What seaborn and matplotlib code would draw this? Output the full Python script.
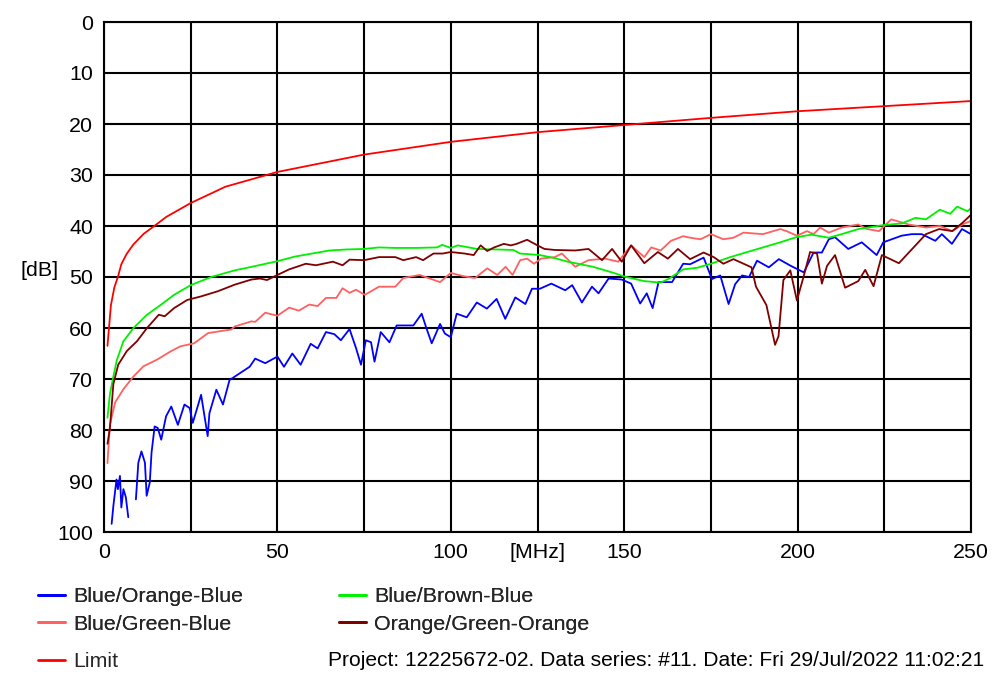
import numpy as np
import pandas as pd
import matplotlib
matplotlib.use("Agg")
import matplotlib.pyplot as plt
from matplotlib.lines import Line2D
import seaborn as sns

# ---------------- data ----------------
lim_f = [1, 2, 3, 4, 5, 6.5, 8.5, 11.5, 14.5, 18, 25, 35, 50, 75, 100, 125, 150, 175, 200, 225, 250]
lim_db = [63.5, 55.5, 52, 50, 47.5, 45.5, 43.6, 41.5, 40, 38.2, 35.5, 32.3, 29.4, 26, 23.5, 21.6, 20.2, 18.8, 17.5, 16.5, 15.5]

green_f = [1, 1.7, 2.7, 3.7, 5.6, 8.5, 12.4, 16.3, 20.2, 25, 30.9, 37.7, 42.6, 50, 55,
           60, 65, 70, 75, 79.3, 84, 90, 96, 97.5, 100, 102, 107.6, 113, 118, 120,
           125.7, 130, 133.7, 141, 147, 150, 155.7, 160.5, 163, 167, 171, 175, 180.6, 185, 190,
           195, 199.6, 204, 209, 212.7, 217.5, 225, 230, 234, 237, 241, 244, 246, 249, 250]
green_db = [77.6, 73, 69.5, 66.3, 62.6, 60, 57.4, 55.5, 53.5, 51.6, 50, 48.7, 48, 46.9, 46,
            45.4, 44.8, 44.6, 44.5, 44.2, 44.3, 44.3, 44.2, 43.7, 44.3, 43.8, 44.5, 44.6, 44.7, 45.4,
            45.7, 46.3, 47, 48, 49.2, 49.9, 50.8, 51.1, 50.3, 48.5, 48.2, 47.4, 46.1, 45.2, 44.2,
            43.2, 42.2, 41.7, 42.3, 41.6, 40.6, 39.8, 39.5, 38.4, 38.7, 36.8, 37.6, 36.2, 37.1, 36.5]

brown_f = [1, 1.7, 2.7, 4.1, 6.6, 9.5, 12.4, 15.8, 17.5, 20.2, 24, 28, 32.8, 37.7, 42.5,
           45, 47, 50, 53.4, 58.2, 61.1, 66, 68.8, 70.8, 75, 79.3, 84, 86.3, 90, 92,
           95, 97.7, 100, 104, 106.6, 108.6, 110.5, 112.5, 115.3, 117.3, 119, 122, 125, 127, 130,
           135.9, 139.7, 143.6, 146.5, 149.3, 152, 155.8, 159.7, 162.6, 165.5, 169, 172.9, 175.8, 178.6, 181.5,
           186.7, 188, 191, 193.5, 194.5, 195.9, 197.9, 199.8, 201.7, 203.6, 205.6, 207, 208.5, 210.8, 213.7,
           217.5, 219.5, 221.9, 224.3, 229.2, 234, 237, 240.8, 244.6, 247.5, 250]
brown_db = [82.7, 79.7, 71, 67.2, 64.5, 62.6, 60, 57.4, 57.7, 56.1, 54.5, 53.8, 52.8, 51.5, 50.5,
            50.3, 50.6, 49.6, 48.5, 47.4, 47.7, 47, 47.7, 46.6, 46.7, 46.1, 46.1, 46.7, 46.1, 46.7,
            45.4, 45.4, 45.1, 45.4, 45.7, 43.8, 44.9, 44.2, 43.5, 43.8, 43.5, 42.7, 43.8, 44.5, 44.7,
            44.8, 44.5, 46.7, 44.5, 47, 43.8, 47.3, 45.1, 46.4, 44.5, 46.5, 45.2, 46.1, 47.4, 46.5,
            48.1, 51.9, 55.5, 63.3, 61.6, 50.6, 48.7, 54.6, 50, 45.1, 45.4, 51.3, 47.8, 45.7, 52.1,
            50.8, 48.6, 51.8, 45.7, 47.3, 43.8, 41.6, 40.6, 41, 39.4, 37.8]

lred_f = [1, 1.7, 3.2, 5.6, 8.5, 11.4, 15.3, 19.2, 22, 26, 30, 32.8, 36.7, 37.7, 42.5,
          43.6, 46.5, 50, 53.4, 56.2, 59.2, 61.6, 64, 67, 68.8, 70.8, 72.7, 75.2, 79.3, 84,
          86.3, 91, 96.9, 100, 104, 107, 110.5, 113.4, 115.8, 117.8, 120, 122, 124, 126, 130,
          132, 135.9, 139.7, 144.5, 148.3, 152, 155.8, 157.8, 160.5, 163.5, 167, 169, 172, 175, 178.6,
          181.5, 184.4, 190, 195, 196.8, 199.8, 202.7, 204.6, 206.5, 209, 212.7, 217.5, 220, 223.5, 227,
          232, 237, 241, 244.6, 247.5, 250]
lred_db = [86.5, 79, 74.6, 72, 69.5, 67.5, 66.2, 64.6, 63.6, 63, 61, 60.7, 60.3, 59.7, 58.7,
           58.8, 57, 57.6, 56, 56.6, 55.4, 55.7, 54.1, 54.1, 52.2, 53.1, 52.5, 53.5, 51.9, 51.9,
           50.2, 49.6, 51, 49.2, 49.9, 50.2, 48.3, 49.6, 48, 49.6, 46.7, 46.4, 47.4, 46.4, 46.1,
           45.4, 48, 46.7, 46.4, 47, 43.8, 46.1, 44.2, 44.8, 42.9, 42, 42.3, 42.6, 41.6, 42.6,
           42.3, 41.3, 41.6, 40.6, 41, 41.9, 41, 41.6, 40.3, 41.3, 40.3, 39.7, 40.6, 41, 38.7,
           39.7, 40.3, 40, 41, 39.7, 39]

blue_f = [2.2, 2.7, 3.6, 4.0, 4.6, 5.0, 5.6, 6.3, 7.0, 8.0, 9.2, 9.9, 10.8, 11.8, 12.3,
          13.2, 13.7, 14.6, 15.5, 16.5, 17.9, 19.4, 21.3, 23.2, 24.7, 25.6, 28, 29.9, 30.4, 32.4,
          34.3, 36.2, 39.1, 42, 43.6, 46.5, 50, 51.9, 54.3, 56.7, 59.6, 61.6, 64, 66.4, 68.3,
          70.8, 72.7, 74.1, 75.5, 77, 78, 79.8, 82.3, 84.4, 89.2, 91.6, 93, 94.5, 96.9, 98.3,
          100, 101.7, 104.6, 107.5, 110.4, 113.2, 115.7, 118.6, 121.5, 123.4, 125.7, 129, 133, 135, 137.8,
          140.7, 142.6, 145.5, 149.3, 152, 154.6, 156.5, 158.2, 159.9, 163.8, 167, 169, 172.9, 175.3, 177.7,
          180.1, 182, 184, 186, 188.3, 191.7, 194.6, 198, 201.8, 204.6, 207, 209, 210.8, 214.6, 218.5,
          222.8, 224.7, 230, 232.9, 235.8, 239.7, 241.6, 244.5, 247.4, 250]
blue_db = [98.4, 94.9, 89.7, 91.6, 89, 95.2, 91.6, 93.2, 97.1, np.nan, 93.6, 86.4, 84.2, 86.4, 92.9,
           90.3, 84.5, 79.3, 79.6, 81.9, 77.3, 75.4, 79, 75, 75.7, 78.6, 73.1, 81.2, 76.7, 72.1,
           75, 70.2, 68.9, 67.6, 66, 66.9, 65.6, 67.6, 65, 67.2, 63.1, 64, 60.8, 61.2, 62.4,
           60.2, 64, 67.2, 62.4, 62.8, 66.6, 60.8, 62.8, 59.5, 59.5, 57.2, 60.1, 63, 59.2, 61.1,
           61.8, 57.2, 57.9, 55, 56.2, 54.3, 58.2, 54, 55.3, 52.3, 52.3, 51.3, 52.6, 51.6, 55,
           51.9, 53.2, 50.3, 50.5, 51.3, 55.2, 53.2, 56.1, 51, 51, 47.4, 47.5, 46.2, 50.4, 49.7,
           55.3, 51.4, 49.7, 50, 46.8, 48.1, 46.5, 47.8, 49.1, 45.2, 45.2, 42.6, 42.2, 44.5, 43.2,
           45.7, 43.2, 41.9, 41.6, 41.6, 42.9, 41.6, 43.5, 40.6, 41.6]

series_names = ["Blue/Orange-Blue", "Blue/Green-Blue", "Blue/Brown-Blue", "Orange/Green-Orange", "Limit"]
colors = ["#0000FF", "#FF6060", "#00F000", "#800000", "#FF0000"]
x_ticks = [0, 25, 50, 75, 100, 125, 150, 175, 200, 225, 250]
x_labels = ["0", "", "50", "", "100", "[MHz]", "150", "", "200", "", "250"]
y_ticks = [0, 10, 20, 30, 40, 50, 60, 70, 80, 90, 100]
footer = "Project: 12225672-02. Data series: #11. Date: Fri 29/Jul/2022 11:02:21"

# ---------------- build long table ----------------
frames = []
for name, f, d in zip(series_names,
                      [blue_f, lred_f, green_f, brown_f, lim_f],
                      [blue_db, lred_db, green_db, brown_db, lim_db]):
    d = np.asarray(d, dtype=float)
    seg = np.cumsum(np.isnan(d))
    frames.append(pd.DataFrame({"f": f, "dB": d, "series": name, "seg": seg}))
data = pd.concat(frames, ignore_index=True)
palette = dict(zip(series_names, colors))

sns.set_style("white")
plt.rcParams["font.family"] = ["Liberation Sans", "DejaVu Sans"]
FS = 15.4

fig = plt.figure(figsize=(10.06, 6.74), dpi=100)
ax = fig.add_axes([104 / 1006, 1 - 532 / 674, (971 - 104) / 1006, (532 - 22) / 674])

sns.lineplot(data=data, x="f", y="dB", hue="series", units="seg", estimator=None,
             palette=palette, hue_order=series_names, sort=False, legend=False,
             linewidth=1.3, ax=ax)

ax.set_xlim(0, 250)
ax.set_ylim(100, 0)
ax.set_xticks(x_ticks)
ax.set_xticklabels(x_labels)
ax.set_yticks(y_ticks)
ax.set_yticklabels([str(v) for v in y_ticks])
ax.grid(True, color="black", linewidth=1.5)
ax.set_axisbelow(True)
for s in ax.spines.values():
    s.set_color("black")
    s.set_linewidth(1.5)
ax.tick_params(direction="out", length=5, width=1.5, color="black",
               labelsize=FS, pad=3, labelcolor="black")
ax.set_xlabel("")
ax.set_ylabel("[dB]", rotation=0, fontsize=FS, color="black", ha="center", va="center")
ax.yaxis.set_label_coords((40 - 104) / 867, (532 - 270) / 510)

# ---------------- legend ----------------
handles = [Line2D([], [], color=c, linewidth=2) for c in colors]
leg1 = fig.legend(handles[:4], series_names[:4], ncol=2, loc="upper left",
                  bbox_to_anchor=(38 / 1006, 1 - 587 / 674), bbox_transform=fig.transFigure,
                  frameon=False, fontsize=FS, handlelength=1.25, handletextpad=0.38,
                  columnspacing=4.5, labelspacing=0.4, borderpad=0, borderaxespad=0)
leg2 = fig.legend(handles[4:], series_names[4:], loc="upper left",
                  bbox_to_anchor=(38 / 1006, 1 - 652 / 674), bbox_transform=fig.transFigure,
                  frameon=False, fontsize=FS, handlelength=1.25, handletextpad=0.38,
                  borderpad=0, borderaxespad=0)
fig.add_artist(leg1)
fig.text(328 / 1006, 1 - 660 / 674, footer, fontsize=15.15, ha="left", va="center", color="black")

fig.savefig("out.png", dpi=100, facecolor="white")
